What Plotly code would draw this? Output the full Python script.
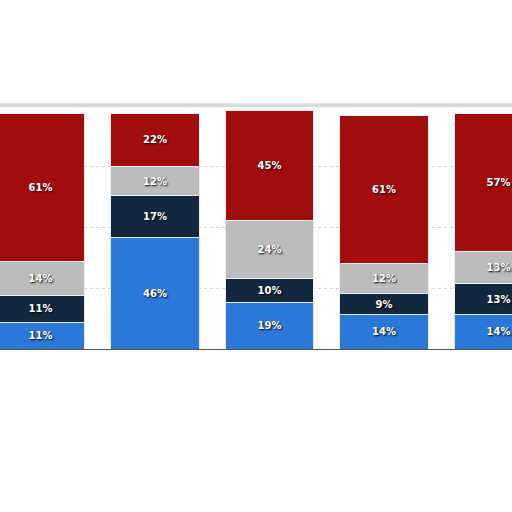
import plotly.graph_objects as go

groups = ["G1", "G2", "G3", "G4", "G5"]
blue_vals = [11, 46, 19, 14, 14]
navy_vals = [11, 17, 10, 9, 13]
gray_vals = [14, 12, 24, 12, 13]
red_vals = [61, 22, 45, 61, 57]

series = [
    ("Blue", blue_vals, "#2c78d8"),
    ("Navy", navy_vals, "#13283f"),
    ("Gray", gray_vals, "#bcbcbc"),
    ("Red", red_vals, "#a30c0c"),
]

fig = go.Figure()
for name, vals, col in series:
    fig.add_trace(go.Bar(
        x=groups, y=vals, name=name,
        marker=dict(color=col, line=dict(color="#e8eef5", width=1)),
        texttemplate="%{y}%", textposition="inside",
        insidetextanchor="middle", constraintext="none",
        textfont=dict(family="DejaVu Sans", size=10, color="white",
                      weight="bold", shadow="1px 1px 2px #000"),
        textangle=0,
    ))

fig.update_layout(
    barmode="stack",
    bargap=0.23,
    width=512,
    height=512,
    margin=dict(l=0, r=0, t=104, b=163, pad=0),
    paper_bgcolor="white",
    plot_bgcolor="white",
    showlegend=False,
)
fig.update_xaxes(range=[-0.354, 4.118], showticklabels=False, ticks="",
                 showline=True, linecolor="#555555", linewidth=1,
                 showgrid=False, zeroline=False)
fig.update_yaxes(range=[0, 100.8], showticklabels=False, ticks="",
                 tickvals=[25, 50, 75], showgrid=True,
                 gridcolor="#d4d4d4", griddash="dot", gridwidth=1,
                 zeroline=False, showline=False)

# soft grey top edge of the plot frame
fig.add_shape(type="line", xref="paper", yref="paper", x0=0, x1=1, y0=0.995, y1=0.995,
              line=dict(color="#dadada", width=4), layer="below")

# page has a default 8px body margin; drop it so the chart sits at 0,0
fig.write_html("out.html", config={"displayModeBar": False},
               post_script="document.body.style.margin='0';")
